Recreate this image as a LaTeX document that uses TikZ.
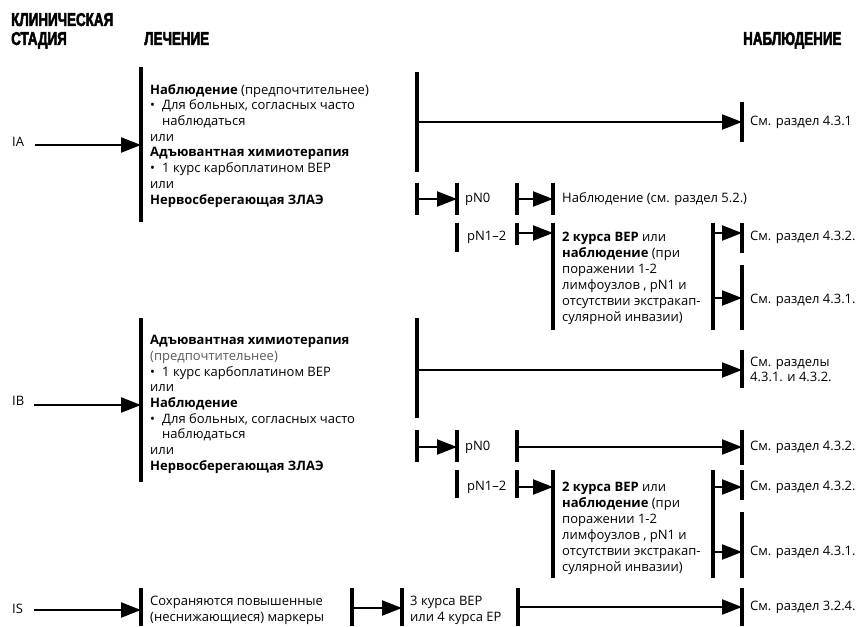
\documentclass[tikz,border=0pt]{standalone}
\usepackage{fontspec}
\setmainfont{Open Sans}
\newfontfamily\hdrfont[FakeStretch=0.72,FakeBold=2.5]{Liberation Sans}
\usetikzlibrary{arrows.meta}

% vertical stop bar: name, x, top y, bottom y
\newcommand\stopbar[4]{\node[stopbarstyle, minimum height={(#4-#3)*1pt}] (#1) at (#2,#3) {};}

\begin{document}
\begin{tikzpicture}[x=1pt,y=-1pt,
  stopbarstyle/.style={fill=black, draw=none, inner sep=0pt, outer sep=0pt,
    minimum width=3.3pt, anchor=north},
  arr/.style={line width=2.2pt, -{Triangle[length=20pt,width=15pt]}},
  hdr/.style={font=\hdrfont\bfseries\fontsize{18.6}{19}\selectfont, anchor=base west, inner sep=0pt},
  lbl/.style={font=\fontsize{13}{15.7}\selectfont, anchor=west, inner sep=0pt,
    text height=9.5pt, text depth=3pt},
  block/.style={font=\fontsize{13}{15.7}\selectfont, anchor=north west, inner sep=0pt, align=left},
  blockw/.style={font=\fontsize{13}{16}\selectfont, anchor=north west, inner sep=0pt, align=left},
]
\path[use as bounding box] (0,0) rectangle (861,626);

% column headings
\node[hdr] (hStage1) at (11,26) {КЛИНИЧЕСКАЯ};
\node[hdr] (hStage2) at (11,45) {СТАДИЯ};
\node[hdr] (hTreat) at (144,45) {ЛЕЧЕНИЕ};
\node[hdr] (hObs) at (743,45) {НАБЛЮДЕНИЕ};

% ---------------- stage IA ----------------
\node[lbl] (lIA) at (12,143) {IA};
\stopbar{A0}{141}{67}{222}
\node[block] (tIA) at (150,83) {\strut\textbf{Наблюдение} (предпочтительнее)\\
\makebox[12pt][l]{•}Для больных, согласных часто\\
\hspace*{12pt}наблюдаться\\
или\\
\textbf{Адъювантная химиотерапия}\\
\makebox[12pt][l]{•}1 курс карбоплатином ВЕР\\
или\\
\textbf{Нервосберегающая ЗЛАЭ}};

\stopbar{A1}{417}{72}{172}
\stopbar{A2}{742}{102}{142}
\node[lbl] (oA1) at (750,122) {См. раздел 4.3.1};

\stopbar{A3}{417}{183}{215}
\stopbar{A4}{457}{183}{215}
\node[lbl] (pA0) at (465,199) {pN0};
\stopbar{A5}{517}{183}{215}
\stopbar{A6}{553}{183}{215}
\node[lbl] (oA0) at (562,199) {Наблюдение (см. раздел 5.2.)};

\stopbar{A7}{457}{223}{252}
\node[lbl] (pA12) at (467,237) {pN1–2};
\stopbar{A8}{517}{223}{245}
\stopbar{A9}{553}{223}{330}
\node[blockw] (tA2) at (562,230) {\strut\textbf{2 курса ВЕР} или\\
\textbf{наблюдение} (при\\
поражении 1-2\\
лимфоузлов , pN1 и\\
отсутствии экстракап-\\
сулярной инвазии)};
\stopbar{A10}{713}{223}{330}
\stopbar{A11}{742}{223}{253}
\stopbar{A12}{742}{265}{330}
\node[lbl] (oA2) at (750,237) {См. раздел 4.3.2.};
\node[lbl] (oA3) at (750,300) {См. раздел 4.3.1.};

\coordinate (sIA) at (35,145);
\draw[arr] (sIA) -- (A0 |- sIA);
\draw[arr] (A1 |- 0,122) -- (A2 |- 0,122);
\draw[arr] (A3 |- 0,199) -- (A4 |- 0,199);
\draw[arr] (A5 |- 0,199) -- (A6 |- 0,199);
\draw[arr] (A8 |- 0,233) -- (A9 |- 0,233);
\draw[arr] (A10 |- 0,233) -- (A11 |- 0,233);
\draw[arr] (A10 |- 0,298) -- (A12 |- 0,298);

% ---------------- stage IB ----------------
\node[lbl] (lIB) at (12,402) {IB};
\stopbar{B0}{141}{318}{482}
\node[block] (tIB) at (150,333.5) {\strut\textbf{Адъювантная химиотерапия}\\
\textcolor{black!65}{(предпочтительнее)}\\
\makebox[12pt][l]{•}1 курс карбоплатином ВЕР\\
или\\
\textbf{Наблюдение}\\
\makebox[12pt][l]{•}Для больных, согласных часто\\
\hspace*{12pt}наблюдаться\\
или\\
\textbf{Нервосберегающая ЗЛАЭ}};

\stopbar{B1}{417}{318}{418}
\stopbar{B2}{742}{350}{388}
\node[block] (oB1) at (750,355) {\strut См. разделы\\4.3.1. и 4.3.2.};

\stopbar{B3}{417}{430}{462}
\stopbar{B4}{457}{430}{462}
\node[lbl] (pB0) at (465,447) {pN0};
\stopbar{B5}{517}{430}{462}
\stopbar{B6}{742}{430}{465}
\node[lbl] (oB0) at (750,447) {См. раздел 4.3.2.};

\stopbar{B7}{457}{470}{498}
\node[lbl] (pB12) at (467,487) {pN1–2};
\stopbar{B8}{517}{470}{498}
\stopbar{B9}{553}{470}{578}
\node[blockw] (tB2) at (562,480) {\strut\textbf{2 курса ВЕР} или\\
\textbf{наблюдение} (при\\
поражении 1-2\\
лимфоузлов , pN1 и\\
отсутствии экстракап-\\
сулярной инвазии)};
\stopbar{B10}{713}{470}{578}
\stopbar{B11}{742}{470}{500}
\stopbar{B12}{742}{512}{578}
\node[lbl] (oB2) at (750,487) {См. раздел 4.3.2.};
\node[lbl] (oB3) at (750,552) {См. раздел 4.3.1.};

\coordinate (sIB) at (34,405);
\draw[arr] (sIB) -- (B0 |- sIB);
\draw[arr] (B1 |- 0,370) -- (B2 |- 0,370);
\draw[arr] (B3 |- 0,447) -- (B4 |- 0,447);
\draw[arr] (B5 |- 0,447) -- (B6 |- 0,447);
\draw[arr] (B8 |- 0,487) -- (B9 |- 0,487);
\draw[arr] (B10 |- 0,487) -- (B11 |- 0,487);
\draw[arr] (B10 |- 0,552) -- (B12 |- 0,552);

% ---------------- stage IS ----------------
\node[lbl] (lIS) at (12,610) {IS};
\stopbar{S0}{141}{588}{626}
\node[block] (tIS) at (150,594.5) {\strut Сохраняются повышенные\\(неснижающиеся) маркеры};
\stopbar{S1}{352}{588}{626}
\stopbar{S2}{402}{588}{626}
\node[block] (tIS2) at (410,594.5) {\strut 3 курса ВЕР\\или 4 курса ЕР};
\stopbar{S3}{518}{588}{626}
\stopbar{S4}{742}{588}{626}
\node[lbl] (oS) at (750,607) {См. раздел 3.2.4.};

\coordinate (sIS) at (34,610);
\draw[arr] (sIS) -- (S0 |- sIS);
\draw[arr] (S1 |- 0,608) -- (S2 |- 0,608);
\draw[arr] (S3 |- 0,607) -- (S4 |- 0,607);
\end{tikzpicture}
\end{document}
